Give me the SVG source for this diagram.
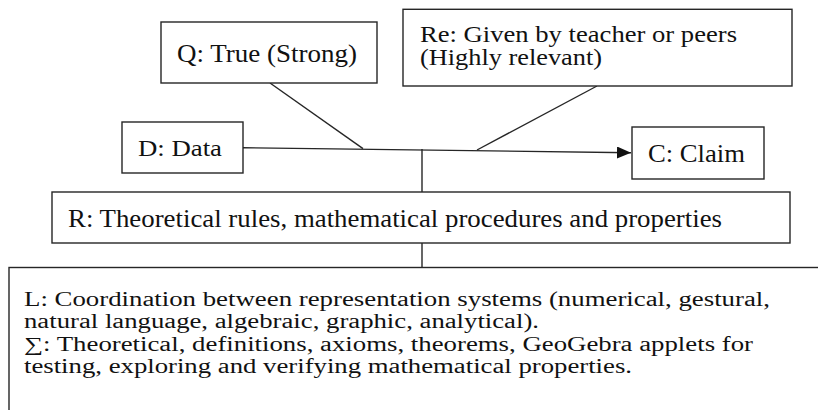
<svg xmlns="http://www.w3.org/2000/svg" width="818" height="410" viewBox="0 0 818 410">
  <style>
    .box { fill: #ffffff; stroke: #262626; stroke-width: 1.4; }
    .conn { stroke: #262626; stroke-width: 1.4; fill: none; }
    text { font-family: 'Liberation Serif', 'DejaVu Serif', serif; fill: #111111; }
  </style>
  <defs>
    <marker id="arrow" viewBox="0 0 14 12" refX="14" refY="6" markerWidth="14" markerHeight="12" markerUnits="userSpaceOnUse" orient="auto">
      <path d="M0,0 L14,6 L0,12 Z" fill="#111111"/>
    </marker>
  </defs>
  <rect width="818" height="410" fill="#ffffff"/>

  <g id="connectors">
    <line class="conn" x1="243" y1="147.7" x2="631" y2="152.7" marker-end="url(#arrow)"/>
    <line class="conn" x1="270" y1="83" x2="363" y2="148.6"/>
    <line class="conn" x1="597" y1="86" x2="477" y2="150"/>
    <line class="conn" x1="422" y1="149" x2="422" y2="192"/>
    <line class="conn" x1="422" y1="243" x2="422" y2="267.5"/>
  </g>

  <g id="qualifier">
    <rect class="box" x="161" y="22" width="216" height="61"/>
    <text x="177" y="62" font-size="26" textLength="180" lengthAdjust="spacingAndGlyphs">Q: True (Strong)</text>
  </g>

  <g id="rebuttal">
    <rect class="box" x="403" y="9.3" width="389" height="76.7"/>
    <text x="420" y="41.5" font-size="23" textLength="317" lengthAdjust="spacingAndGlyphs">Re: Given by teacher or peers</text>
    <text x="420" y="65" font-size="23" textLength="182" lengthAdjust="spacingAndGlyphs">(Highly relevant)</text>
  </g>

  <g id="data">
    <rect class="box" x="122" y="122" width="121" height="51"/>
    <text x="138" y="156" font-size="24" textLength="84" lengthAdjust="spacingAndGlyphs">D: Data</text>
  </g>

  <g id="claim">
    <rect class="box" x="632" y="127" width="132" height="52"/>
    <text x="648" y="162" font-size="26" textLength="97" lengthAdjust="spacingAndGlyphs">C: Claim</text>
  </g>

  <g id="warrant">
    <rect class="box" x="52" y="192" width="738" height="51"/>
    <text x="68" y="226.5" font-size="26" textLength="654" lengthAdjust="spacingAndGlyphs">R: Theoretical rules, mathematical procedures and properties</text>
  </g>

  <g id="backing">
    <rect class="box" x="9" y="267.5" width="830" height="170"/>
    <text x="24" y="305.5" font-size="20" textLength="746" lengthAdjust="spacingAndGlyphs">L: Coordination between representation systems (numerical, gestural,</text>
    <text x="24" y="328" font-size="20" textLength="515" lengthAdjust="spacingAndGlyphs">natural language, algebraic, graphic, analytical).</text>
    <text x="24" y="350.5" font-size="20" textLength="729" lengthAdjust="spacingAndGlyphs">∑: Theoretical, definitions, axioms, theorems, GeoGebra applets for</text>
    <text x="24" y="373" font-size="20" textLength="608" lengthAdjust="spacingAndGlyphs">testing, exploring and verifying mathematical properties.</text>
  </g>
</svg>
